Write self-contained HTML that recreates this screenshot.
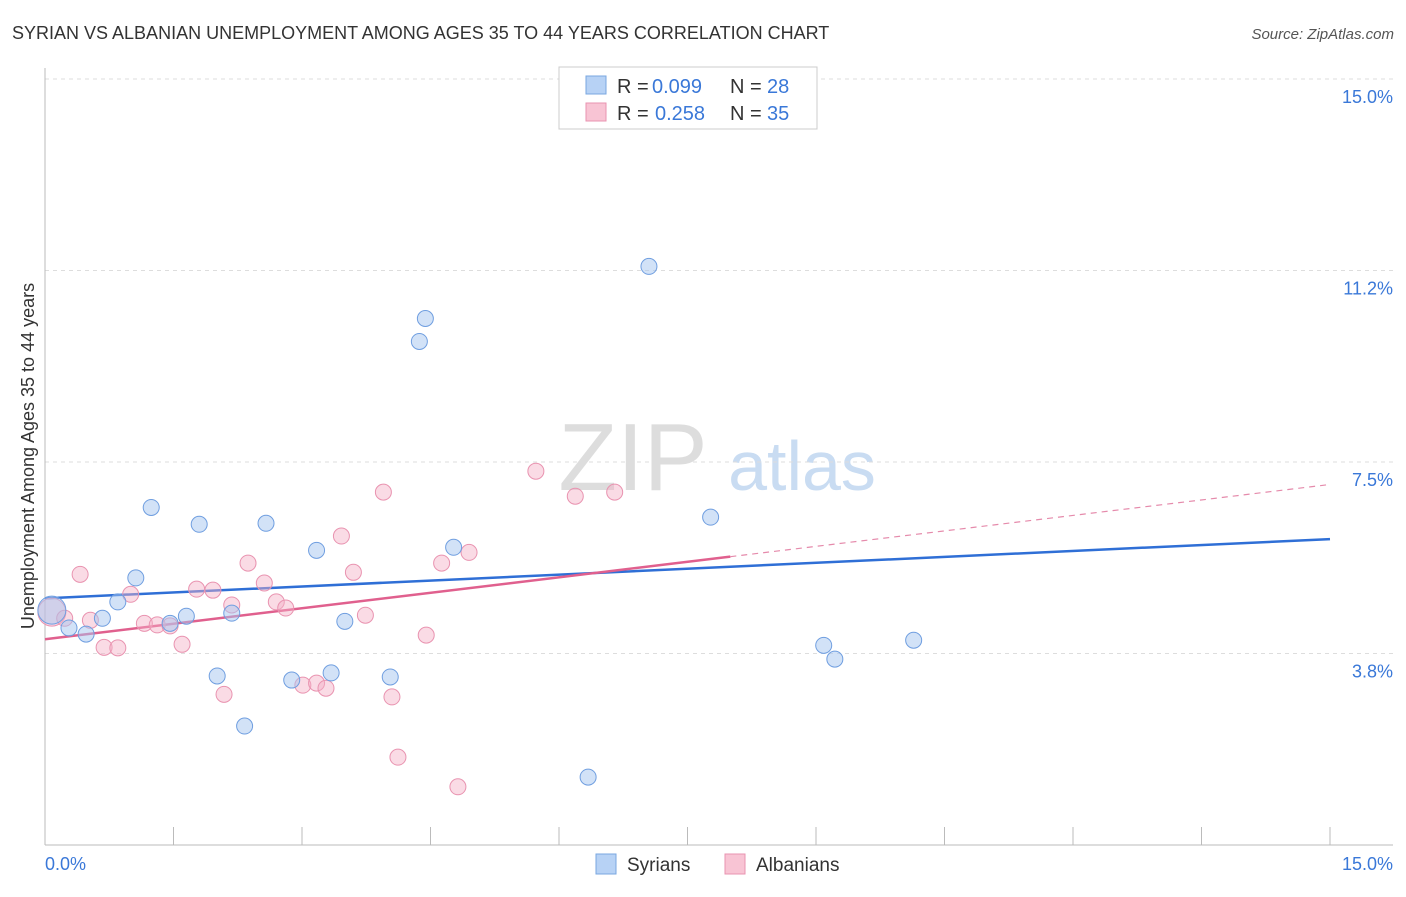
<!DOCTYPE html>
<html><head><meta charset="utf-8">
<style>
body{margin:0;background:#fff;font-family:"Liberation Sans",sans-serif;}
svg text{font-family:"Liberation Sans",sans-serif;}
</style></head>
<body>
<svg id="chart" width="1406" height="892" viewBox="0 0 1406 892" xmlns="http://www.w3.org/2000/svg">
<text x="12" y="39" font-size="18" fill="#333">SYRIAN VS ALBANIAN UNEMPLOYMENT AMONG AGES 35 TO 44 YEARS CORRELATION CHART</text>
<text x="1394" y="39" font-size="15" fill="#555" text-anchor="end" font-style="italic">Source: ZipAtlas.com</text>
<g>
<text x="633" y="490" font-size="96" fill="#ddd" text-anchor="middle" font-family="Liberation Serif, serif">ZIP</text>
<text x="802" y="490" font-size="70" fill="#c9dcf2" text-anchor="middle">atlas</text>
</g>
<g id="grid"></g>
<g id="axes"></g>
<g id="trends"></g>
<g id="points"></g>
<text transform="translate(34,456) rotate(-90)" font-size="18" fill="#333" text-anchor="middle">Unemployment Among Ages 35 to 44 years</text>
<g>
<rect x="559" y="67" width="258" height="62" fill="#fff" stroke="#ccc"/>
<rect x="586" y="76" width="20" height="18" fill="#b7d2f5" stroke="#7aa7e0"/>
<text x="617" y="93" font-size="20" fill="#333">R = </text><text x="652" y="93" font-size="20" fill="#3a78d8">0.099</text>
<text x="730" y="93" font-size="20" fill="#333">N = </text><text x="767" y="93" font-size="20" fill="#3a78d8">28</text>
<rect x="586" y="103" width="20" height="18" fill="#f8c4d4" stroke="#e993b0"/>
<text x="617" y="120" font-size="20" fill="#333">R = </text><text x="655" y="120" font-size="20" fill="#3a78d8">0.258</text>
<text x="730" y="120" font-size="20" fill="#333">N = </text><text x="767" y="120" font-size="20" fill="#3a78d8">35</text>
</g>
<g>
<rect x="596" y="854" width="20" height="20" fill="#b7d2f5" stroke="#7aa7e0"/>
<text x="627" y="871" font-size="19" fill="#333">Syrians</text>
<rect x="725" y="854" width="20" height="20" fill="#f8c4d4" stroke="#e993b0"/>
<text x="756" y="871" font-size="19" fill="#333">Albanians</text>
</g>
</svg>
<script>
const yTicks=[3.75,7.5,11.25,15];
const yTickLabels=["3.8%","7.5%","11.2%","15.0%"];
const xTickValues=[0,1.5,3,4.5,6,7.5,9,10.5,12,13.5,15];
const syrX=[0.08,0.28,0.48,0.67,0.85,1.06,1.24,1.46,1.65,1.80,2.01,2.18,2.33,2.58,2.88,3.17,3.34,3.50,4.03,4.37,4.44,4.77,6.34,7.05,7.77,9.09,9.22,10.14];
const syrY=[4.60,4.25,4.13,4.44,4.76,5.23,6.61,4.34,4.48,6.28,3.31,4.54,2.33,6.30,3.23,5.77,3.37,4.38,3.29,9.86,10.31,5.83,1.33,11.33,6.42,3.91,3.64,4.01];
const albX=[0.08,0.23,0.41,0.53,0.69,0.85,1.00,1.16,1.31,1.46,1.60,1.77,1.96,2.09,2.18,2.37,2.56,2.70,2.81,3.01,3.17,3.28,3.46,3.60,3.74,3.95,4.05,4.12,4.45,4.63,4.82,4.95,5.73,6.19,6.65];
const albY=[4.56,4.44,5.30,4.40,3.87,3.86,4.91,4.34,4.31,4.29,3.93,5.01,4.99,2.95,4.70,5.52,5.13,4.76,4.64,3.13,3.17,3.07,6.05,5.34,4.50,6.91,2.90,1.72,4.11,5.52,1.14,5.73,7.32,6.83,6.91];
const syrTrend=[4.83,5.99];
const albTrend=[4.03,7.06];
const albSolidEnd=8.0;

const NS="http://www.w3.org/2000/svg";
const X=v=>45+v*(1330-45)/15;
const Y=v=>845-v*(845-79)/15;
function mk(tag,attrs,parent){const e=document.createElementNS(NS,tag);for(const k in attrs)e.setAttribute(k,attrs[k]);document.getElementById(parent).appendChild(e);return e;}

yTicks.forEach((t,i)=>{
  const l=mk('line',{x1:45,x2:1393,y1:Y(t),y2:Y(t),stroke:'#ddd','stroke-dasharray':'4,4'},'grid');
  
  
  const tx=mk('text',{x:1393,y:Y(t)+24,'font-size':18,fill:'#3a78d8','text-anchor':'end'},'grid');
  tx.textContent=yTickLabels[i];
  
  
});
const ax=mk('line',{x1:45,x2:1393,y1:845,y2:845,stroke:'#bbb'},'axes');


const ay=mk('line',{x1:45,x2:45,y1:68,y2:845,stroke:'#bbb'},'axes');


xTickValues.forEach(v=>{
  const t=mk('line',{x1:X(v),x2:X(v),y1:827,y2:845,stroke:'#bbb'},'axes');
  
  
});
const xl0=mk('text',{x:45,y:870,'font-size':18,fill:'#3a78d8'},'axes');xl0.textContent='0.0%';


const xl1=mk('text',{x:1393,y:870,'font-size':18,fill:'#3a78d8','text-anchor':'end'},'axes');xl1.textContent='15.0%';



const bt=mk('line',{x1:X(0),y1:Y(syrTrend[0]),x2:X(15),y2:Y(syrTrend[1]),stroke:'#2f6fd6','stroke-width':2.5},'trends');


const slope=(albTrend[1]-albTrend[0])/15;
const midY=albTrend[0]+slope*albSolidEnd;
const pt=mk('line',{x1:X(0),y1:Y(albTrend[0]),x2:X(albSolidEnd),y2:Y(midY),stroke:'#e0608e','stroke-width':2.5},'trends');


const pd=mk('line',{x1:X(albSolidEnd),y1:Y(midY),x2:X(15),y2:Y(albTrend[1]),stroke:'#e58aab','stroke-width':1.2,'stroke-dasharray':'6,5'},'trends');



albX.forEach((x,i)=>{
  const c=mk('circle',{cx:X(x),cy:Y(albY[i]),r:i===0?14:8,fill:'rgba(245,175,198,0.45)',stroke:'#e993b0','stroke-width':1},'points');
  
  
});
syrX.forEach((x,i)=>{
  const c=mk('circle',{cx:X(x),cy:Y(syrY[i]),r:i===0?14:8,fill:'rgba(165,198,240,0.5)',stroke:'#6f9ee0','stroke-width':1},'points');
  
  
});
</script>
</body></html>
